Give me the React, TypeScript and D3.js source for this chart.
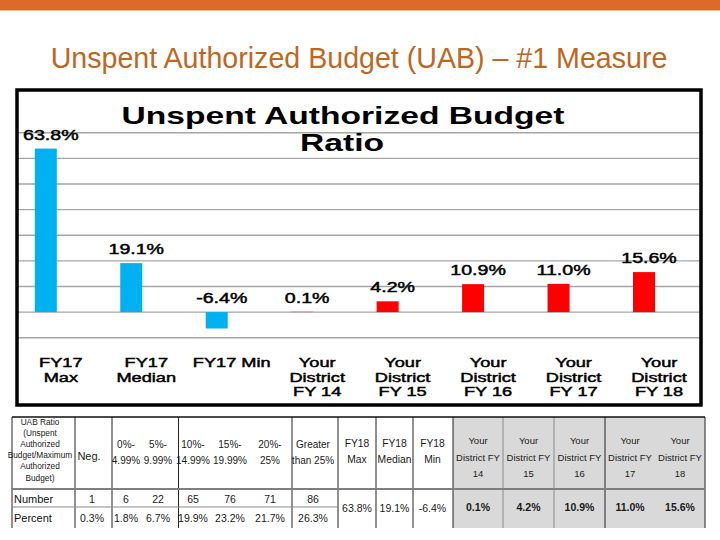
import React from "react";
import * as d3 from "d3";

// ---------- data ----------
const categories = [
  "FY17 Max",
  "FY17 Median",
  "FY17 Min",
  "Your District FY 14",
  "Your District FY 15",
  "Your District FY 16",
  "Your District FY 17",
  "Your District FY 18",
];
const categoryLines = [
  ["FY17", "Max"],
  ["FY17", "Median"],
  ["FY17 Min"],
  ["Your", "District", "FY 14"],
  ["Your", "District", "FY 15"],
  ["Your", "District", "FY 16"],
  ["Your", "District", "FY 17"],
  ["Your", "District", "FY 18"],
];
const values = [63.8, 19.1, -6.4, 0.1, 4.2, 10.9, 11.0, 15.6];
const isDistrict = [false, false, false, true, true, true, true, true];
const yTicks = [-10, 0, 10, 20, 30, 40, 50, 60, 70];

const uabHeaderLines = ["UAB Ratio", "(Unspent", "Authorized", "Budget/Maximum", "Authorized", "Budget)"];
const binHeaders = [["Neg."], ["0%-", "4.99%"], ["5%-", "9.99%"], ["10%-", "14.99%"], ["15%-", "19.99%"], ["20%-", "25%"], ["Greater", "than 25%"]];
const binCounts = [1, 6, 22, 65, 76, 71, 86];
const binPercents = [0.3, 1.8, 6.7, 19.9, 23.2, 21.7, 26.3];
const fy18Headers = [["FY18", "Max"], ["FY18", "Median"], ["FY18", "Min"]];
const fy18Values = [63.8, 19.1, -6.4];
const districtHeaders = [["Your", "District FY", "14"], ["Your", "District FY", "15"], ["Your", "District FY", "16"], ["Your", "District FY", "17"], ["Your", "District FY", "18"]];
const districtValues = [0.1, 4.2, 10.9, 11.0, 15.6];

// ---------- layout ----------
const W = 720, H = 540;
const FONT = "'Liberation Sans', Arial, Helvetica, sans-serif";
const STRETCH = 1.4;

const box = { x: 17, y: 90, w: 684, h: 315 };
const y = d3.scaleLinear().domain([-10, 70]).range([337.7, 132.7]);
const x = d3.scalePoint<string>().domain(categories).range([45.8, 644]);
const barW = 22;
const fmt = (v: number) => `${v.toFixed(1)}%`;

const S = ({ x: tx, y: ty, size, weight = "normal", children, fill = "#000", stroke = 0 }: any) => (
  <text
    transform={`translate(${tx},${ty}) scale(${STRETCH},1)`}
    textAnchor="middle"
    fontFamily={FONT}
    fontSize={size}
    fontWeight={weight}
    fill={fill}
    stroke={stroke ? fill : "none"}
    strokeWidth={stroke}
  >
    {children}
  </text>
);

// table geometry
const tTop = 417, tHead = 489, tRow = 507, tBot = 528;
const vLines = [12, 75, 112, 178.5, 292, 338, 376, 413, 453, 503, 554, 605, 705];
const grayLines = [503, 554];
const binCenters = [92, 126, 158, 193, 230, 270, 313];
const fy18Centers = [357, 394.5, 432.5];
const districtCenters = [478, 528.5, 579.5, 630, 680];

export default function App() {
  const tf = { fontFamily: FONT, fill: "#1a1a1a", textAnchor: "middle" as const };
  return (
    <svg width={W} height={H} style={{ position: "absolute", left: 0, top: 0, background: "#fff" }}>
      <rect x={0} y={0} width={W} height={H} fill="#fff" />
      <rect x={0} y={0} width={W} height={10.5} fill="#DD6A28" />
      <text x={359} y={67.7} textAnchor="middle" fontFamily={FONT} fontSize={28.6} fill="#BE671F">
        Unspent Authorized Budget (UAB) – #1 Measure
      </text>

      {/* chart */}
      <g>
        {yTicks.map((t) => (
          <line key={t} x1={box.x} x2={box.x + box.w} y1={y(t)} y2={y(t)} stroke="#A6A6A6" strokeWidth={1.4} />
        ))}
        <S x={343} y={124} size={24} weight="bold">Unspent Authorized Budget</S>
        <S x={342} y={150.7} size={24} weight="bold">Ratio</S>
        {values.map((v, i) => {
          const cx = x(categories[i])!;
          const top = y(Math.max(v, 0));
          const h = Math.abs(y(v) - y(0));
          return (
            <g key={i}>
              <rect x={cx - barW / 2} y={top} width={barW} height={h} fill={isDistrict[i] ? "#FF0000" : "#00B0F0"} />
              <S x={cx + 5} y={Math.min(y(v), y(0)) - 9} size={14} stroke={0.45}>
                {fmt(v)}
              </S>
            </g>
          );
        })}
        {categoryLines.map((lines, i) => (
          <g key={i}>
            {lines.map((l, j) => (
              <S key={j} x={x(categories[i])! + 15} y={367.3 + j * 14.4} size={13} stroke={0.45}>
                {l}
              </S>
            ))}
          </g>
        ))}
        <rect x={box.x} y={box.y} width={box.w} height={box.h} fill="none" stroke="#000" strokeWidth={3.5} />
      </g>

      {/* table */}
      <g>
        <rect x={453} y={tTop} width={705 - 453} height={tBot - tTop} fill="#D9D9D9" />
        {vLines.map((vx) => (
          <line key={vx} x1={vx} x2={vx} y1={tTop} y2={tBot} stroke={grayLines.includes(vx) ? "#8a8a8a" : "#222"} strokeWidth={1} />
        ))}
        <line x1={12} x2={705} y1={tTop} y2={tTop} stroke="#111" strokeWidth={1.5} />
        <line x1={12} x2={705} y1={tHead} y2={tHead} stroke="#7f7f7f" strokeWidth={2} />
        <line x1={12} x2={338} y1={tRow} y2={tRow} stroke="#8a8a8a" strokeWidth={1} />

        {uabHeaderLines.map((l, i) => (
          <text key={i} x={40} y={425 + i * 11.1} fontSize={8.3} {...tf}>{l}</text>
        ))}
        {binHeaders.map((lines, i) =>
          lines.length === 1 ? (
            <text key={i} x={binCenters[i] - 3} y={460} fontSize={11} {...tf}>{lines[0]}</text>
          ) : (
            lines.map((l, j) => (
              <text key={`${i}-${j}`} x={binCenters[i]} y={448 + j * 16} fontSize={10} {...tf}>{l}</text>
            ))
          )
        )}
        {fy18Headers.map((lines, i) =>
          lines.map((l, j) => (
            <text key={`f${i}-${j}`} x={fy18Centers[i]} y={447 + j * 16} fontSize={10.3} {...tf}>{l}</text>
          ))
        )}
        {districtHeaders.map((lines, i) =>
          lines.map((l, j) => (
            <text key={`d${i}-${j}`} x={districtCenters[i]} y={444 + j * 16.5} fontSize={9.5} {...tf}>{l}</text>
          ))
        )}
        <text x={14} y={503} fontSize={11} fontFamily={FONT} fill="#111">Number</text>
        <text x={14} y={522} fontSize={11} fontFamily={FONT} fill="#111">Percent</text>
        {binCounts.map((v, i) => (
          <text key={`c${i}`} x={binCenters[i]} y={503} fontSize={10.5} {...tf}>{v}</text>
        ))}
        {binPercents.map((v, i) => (
          <text key={`p${i}`} x={binCenters[i]} y={522} fontSize={10.5} {...tf}>{fmt(v)}</text>
        ))}
        {fy18Values.map((v, i) => (
          <text key={`fv${i}`} x={fy18Centers[i]} y={512} fontSize={10.5} {...tf}>{fmt(v)}</text>
        ))}
        {districtValues.map((v, i) => (
          <text key={`dv${i}`} x={districtCenters[i]} y={511} fontSize={10.5} fontWeight="bold" {...tf}>{fmt(v)}</text>
        ))}
      </g>
    </svg>
  );
}
